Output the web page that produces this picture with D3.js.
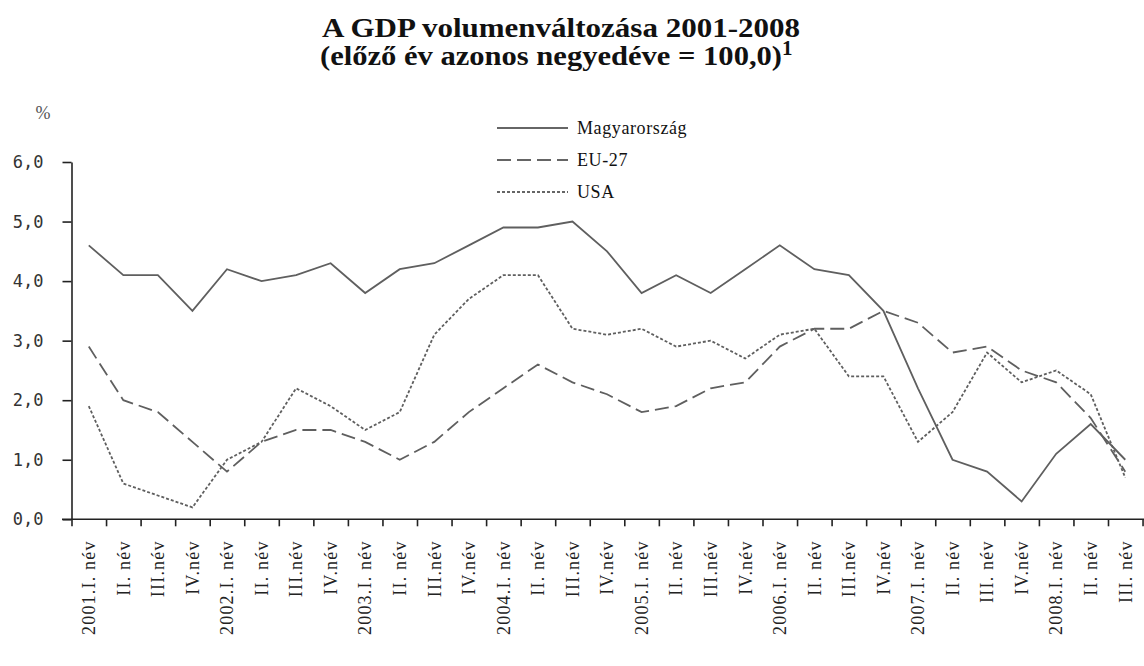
<!DOCTYPE html>
<html>
<head>
<meta charset="utf-8">
<script src="https://cdn.jsdelivr.net/npm/d3@7"></script>
<style>
  html, body { margin: 0; padding: 0; background: #fff; }
  svg { display: block; }
</style>
</head>
<body>
<svg id="chart" width="1144" height="666"></svg>
<script>
const categories = ["2001.I. név","II. név","III.név","IV.név","2002.I. név","II. név","III.név","IV.név","2003.I. név","II. név","III.név","IV.név","2004.I. név","II. név","III.név","IV.név","2005.I. név","II. név","III.név","IV.név","2006.I. név","II. név","III.név","IV.név","2007.I. név","II. név","III. név","IV.név","2008.I. név","II. név","III. név"];
const hungary = [4.6,4.1,4.1,3.5, 4.2,4.0,4.1,4.3, 3.8,4.2,4.3,4.6, 4.9,4.9,5.0,4.5, 3.8,4.1,3.8,4.2, 4.6,4.2,4.1,3.5, 2.2,1.0,0.8,0.3, 1.1,1.6,1.0];
const eu27 = [2.9,2.0,1.8,1.3, 0.8,1.3,1.5,1.5, 1.3,1.0,1.3,1.8, 2.2,2.6,2.3,2.1, 1.8,1.9,2.2,2.3, 2.9,3.2,3.2,3.5, 3.3,2.8,2.9,2.5, 2.3,1.7,0.8];
const usa = [1.9,0.6,0.4,0.2, 1.0,1.3,2.2,1.9, 1.5,1.8,3.1,3.7, 4.1,4.1,3.2,3.1, 3.2,2.9,3.0,2.7, 3.1,3.2,2.4,2.4, 1.3,1.8,2.8,2.3, 2.5,2.1,0.7];
const seriesNames = ["Magyarország","EU-27","USA"];
const yTicks = [0,1,2,3,4,5,6];
const titleLines = ["A GDP volumenváltozása 2001-2008", "(előző év azonos negyedéve = 100,0)"];

const svg = d3.select("#chart");
svg.append("rect").attr("width",1144).attr("height",666).attr("fill","#fff");

const x0 = 71.5, x1 = 71.5 + 34.55*categories.length;
const y0 = 519.3, y1 = 162;
const x = d3.scaleBand().domain(categories.map((d,i)=>i)).range([x0,x1]).padding(0);
const xEdge = d3.scaleLinear().domain([0,categories.length]).range([x0,x1]);
const y = d3.scaleLinear().domain([0,6]).range([y0,y1]);

const lineColor = "#5f5f5f";

// Title
const title = svg.append("text").attr("text-anchor","middle")
  .attr("font-family","'Liberation Serif', 'Times New Roman', serif")
  .attr("font-weight","bold").attr("font-size",27).attr("fill","#111");
title.append("tspan").attr("x",561).attr("y",37).text(titleLines[0])
  .attr("textLength",478).attr("lengthAdjust","spacingAndGlyphs");
const t2 = svg.append("text").attr("text-anchor","start")
  .attr("font-family","'Liberation Serif', 'Times New Roman', serif")
  .attr("font-weight","bold").attr("font-size",27).attr("fill","#111")
  .attr("x",320).attr("y",65);
t2.append("tspan").text(titleLines[1]).attr("textLength",462).attr("lengthAdjust","spacingAndGlyphs");
t2.append("tspan").attr("dy",-10).attr("font-size",21).text("1");

// % label
svg.append("text").attr("x",43).attr("y",119).attr("text-anchor","middle")
  .attr("font-family","'Liberation Serif', serif").attr("font-size",18).attr("fill","#555").text("%");

// Y axis
const yAxis = d3.axisLeft(y).tickValues(yTicks).tickSize(9).tickSizeOuter(0).tickPadding(19)
  .tickFormat(d => d3.format(".1f")(d).replace(".", ","));
const gy = svg.append("g").attr("transform",`translate(${x0},0)`).call(yAxis);
gy.selectAll("path.domain").attr("stroke","#222").attr("stroke-width",1.6);
gy.selectAll(".tick line").attr("stroke","#222").attr("stroke-width",1.6);
gy.selectAll(".tick text").attr("font-family","'DejaVu Sans Mono', monospace").attr("font-size",17).attr("fill","#333");

// X axis ticks
const xAxis = d3.axisBottom(xEdge).tickValues(d3.range(0,categories.length+1)).tickSize(7).tickSizeOuter(0).tickFormat("");
const gx = svg.append("g").attr("transform",`translate(0,${y0})`).call(xAxis);
gx.select("path.domain").remove();
gx.selectAll(".tick line").attr("stroke","#222").attr("stroke-width",1.6);
svg.append("line").attr("x1",62).attr("x2",1144).attr("y1",y0).attr("y2",y0).attr("stroke","#222").attr("stroke-width",1.6);

// X labels
const labelAxis = d3.axisBottom(x).tickSize(0).tickFormat(i => categories[i]);
const gl = svg.append("g").attr("transform",`translate(0,${y0})`).call(labelAxis);
gl.select("path.domain").remove();
gl.selectAll(".tick text")
  .attr("font-family","'Liberation Serif', 'Times New Roman', serif").attr("font-size",18).attr("fill","#222")
  .attr("letter-spacing",1.2)
  .attr("text-anchor","end").attr("x",-21).attr("y",0).attr("dy","0.35em")
  .attr("transform","rotate(-90)");

// Lines
const series = [
  {name: seriesNames[0], values: hungary, dash: null},
  {name: seriesNames[1], values: eu27, dash: "14,6"},
  {name: seriesNames[2], values: usa, dash: "3,2"}
];
const line = d3.line().x((d,i)=>x(i)+x.bandwidth()/2).y(d=>y(d));
series.forEach(s => {
  svg.append("path").datum(s.values).attr("d",line).attr("fill","none")
    .attr("stroke",lineColor).attr("stroke-width",1.8)
    .attr("stroke-dasharray",s.dash);
});

// Legend
const legendY = [128,160,192];
series.forEach((s,i) => {
  svg.append("line").attr("x1",497).attr("x2",568).attr("y1",legendY[i]).attr("y2",legendY[i])
    .attr("stroke","#333").attr("stroke-width",1.5).attr("stroke-dasharray",s.dash);
  svg.append("text").attr("x",577).attr("y",legendY[i]).attr("dy","0.35em")
    .attr("font-family","'Liberation Serif', 'Times New Roman', serif").attr("font-size",18)
    .attr("letter-spacing",0.6).attr("fill","#111").text(s.name);
});
</script>
</body>
</html>
